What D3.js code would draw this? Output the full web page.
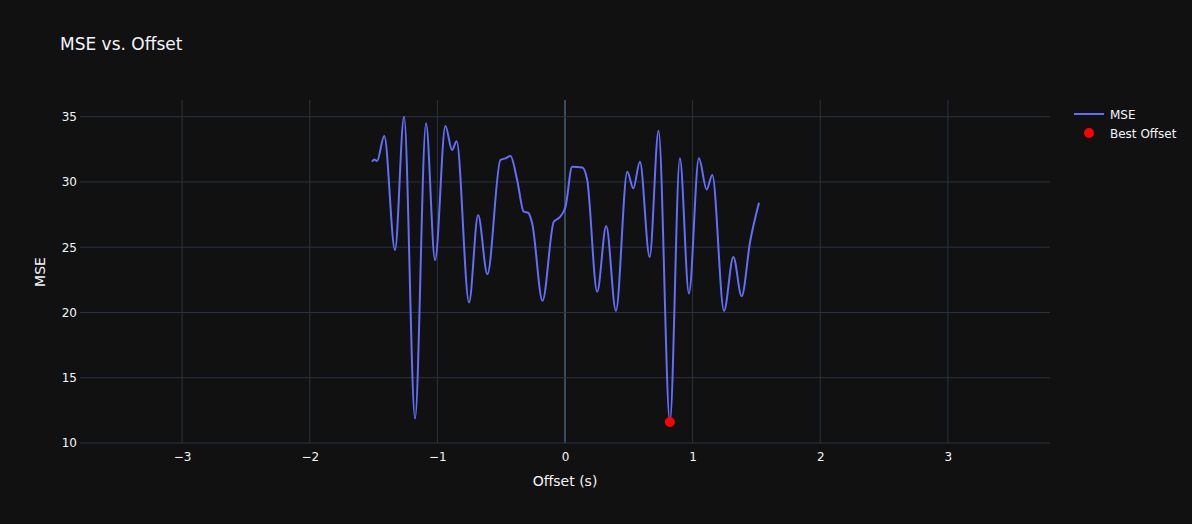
<!DOCTYPE html>
<html><head><meta charset="utf-8">
<script src="https://cdn.jsdelivr.net/npm/d3@7"></script>
<style>html,body{margin:0;padding:0;background:#111111;}svg{display:block;font-family:"DejaVu Sans",Verdana,sans-serif;}</style>
</head><body><svg id="c" width="1192" height="524"></svg>
<script>
const offsets = [-1.512,-1.494,-1.473,-1.416,-1.332,-1.261,-1.175,-1.089,-1.018,-0.937,-0.885,-0.849,-0.752,-0.681,-0.608,-0.506,-0.467,-0.427,-0.375,-0.323,-0.289,-0.257,-0.176,-0.088,-0.043,0.004,0.056,0.135,0.174,0.252,0.323,0.399,0.488,0.535,0.587,0.663,0.733,0.822,0.900,0.971,1.049,1.110,1.154,1.246,1.319,1.384,1.450,1.520];
const mse = [31.55,31.73,31.6,33.52,24.78,35.0,11.87,34.49,24.0,34.29,32.45,33.11,20.77,27.46,22.94,31.68,31.81,31.99,30.15,27.72,27.64,26.82,20.89,26.95,27.28,28.1,31.17,31.1,30.15,21.58,26.62,20.12,30.78,29.51,31.55,24.26,33.93,11.61,31.81,21.46,31.81,29.43,30.53,20.12,24.26,21.25,25.4,28.4];
const bestOffset = [0.822];
const bestMse = [11.61];
const xTicks = [-3,-2,-1,0,1,2,3];
const yTicks = [10,15,20,25,30,35];
const seriesNames = ["MSE","Best Offset"];

const svg = d3.select("#c");
const L=80,R=1050,T=100,B=443;
const x = d3.scaleLinear().domain([-3.8,3.8]).range([L,R]);
const y = d3.scaleLinear().domain([10,36.28]).range([B,T]);
const grid="#283442", txt="#f2f5fa";
const FF="'DejaVu Sans',Verdana,sans-serif";

svg.append("rect").attr("width",1192).attr("height",524).attr("fill","#111111");

// grid
const gx = svg.append("g");
gx.selectAll("line.v").data(xTicks).join("line").attr("class","v")
  .attr("x1",d=>x(d)).attr("x2",d=>x(d)).attr("y1",T).attr("y2",B)
  .attr("stroke",d=>d===0?"#384a5e":grid).attr("stroke-width",d=>d===0?2:1);
gx.selectAll("line.h").data(yTicks).join("line").attr("class","h")
  .attr("x1",L).attr("x2",R).attr("y1",d=>y(d)).attr("y2",d=>y(d))
  .attr("stroke",grid).attr("stroke-width",1);

// axes via d3 axis
const fmt = d=> d<0 ? "\u2212"+Math.abs(d) : String(d);
const ax = svg.append("g").attr("transform",`translate(0,${B})`)
  .call(d3.axisBottom(x).tickValues(xTicks).tickFormat(fmt).tickSize(0).tickPadding(9));
const ay = svg.append("g").attr("transform",`translate(${L},0)`)
  .call(d3.axisLeft(y).tickValues(yTicks).tickFormat(fmt).tickSize(0).tickPadding(3));
[ax,ay].forEach(a=>{a.select(".domain").remove();a.selectAll("text").attr("fill",txt).attr("font-size",12).attr("font-family",FF);});

// line
const pts = offsets.map((o,i)=>[o,mse[i]]);
svg.append("path").datum(pts).attr("fill","none").attr("stroke","#636efa").attr("stroke-width",2)
  .attr("d",d3.line().x(d=>x(d[0])).y(d=>y(d[1])).curve(d3.curveMonotoneX));

svg.selectAll("circle.best").data(bestOffset).join("circle").attr("class","best")
  .attr("cx",d=>x(d)).attr("cy",(d,i)=>y(bestMse[i])).attr("r",5).attr("fill","#ff0000");

// titles
svg.append("text").attr("x",60).attr("y",50).attr("fill",txt).attr("font-size",17).text("MSE vs. Offset");
svg.append("text").attr("x",(L+R)/2).attr("y",486).attr("text-anchor","middle").attr("fill",txt).attr("font-size",14).text("Offset (s)");
svg.append("text").attr("transform","translate(45,272) rotate(-90)").attr("text-anchor","middle").attr("fill",txt).attr("font-size",14).text("MSE");

// legend
const lg = svg.append("g");
lg.append("line").attr("x1",1074).attr("x2",1104).attr("y1",114).attr("y2",114).attr("stroke","#636efa").attr("stroke-width",2);
lg.append("circle").attr("cx",1089).attr("cy",133).attr("r",5).attr("fill","#ff0000");
lg.selectAll("text").data(seriesNames).join("text").attr("x",1110).attr("y",(d,i)=>114+i*19+4.5)
  .attr("fill",txt).attr("font-size",12).text(d=>d);
</script></body></html>
